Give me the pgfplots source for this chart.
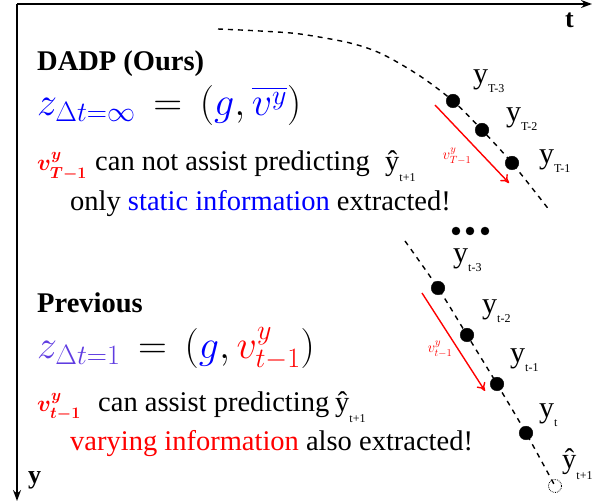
\RequirePackage{fix-cm}
\documentclass[border=0pt]{standalone}
\usepackage{amsmath}
\usepackage{bm}
\usepackage{pgfplots}
\pgfplotsset{compat=1.18}
\usetikzlibrary{arrows.meta}
\usepackage{fontspec}
\setmainfont{Liberation Serif}
\definecolor{zpurple}{RGB}{95,60,225}
\newcommand{\ylab}[1]{{\fontsize{30}{30}\selectfont y}\raisebox{-9pt}{\fontsize{12}{12}\selectfont #1}}
\newcommand{\yhat}{{\fontsize{28.5}{28.5}\selectfont ŷ}\raisebox{-11pt}{\fontsize{12}{12}\selectfont t+1}}
\newcommand{\txt}{\fontsize{28.5}{30}\selectfont}
\begin{document}
\begin{tikzpicture}
\begin{axis}[
  hide axis, scale only axis, width=598pt, height=503pt,
  xmin=0, xmax=598, ymin=0, ymax=503, clip=false,
]
\addplot[draw=none] coordinates {(0,0) (598,503)};
% axes of the sketch
\addplot[line width=1.5pt, -{Stealth[length=11pt,width=8pt]}] coordinates {(17,500) (592,500)};
\addplot[line width=1.5pt, -{Stealth[length=11pt,width=8pt]}] coordinates {(17,500) (17,3)};
% upper dashed curve
\addplot[smooth, line width=1.4pt, dash pattern=on 5pt off 5pt] coordinates {
 (218,475) (260,473) (300,470) (350,461) (382,450) (420,428) (453,403) (482,374) (512,341) (550,293)};
\addplot[only marks, mark=*, mark size=6.8pt, black] coordinates {(453,403) (482,374) (512,341)};
\addplot[red, line width=1.4pt, -{To[length=8pt,width=10pt]}] coordinates {(435,399) (509,321)};
% dots
\addplot[only marks, mark=*, mark size=4pt, black] coordinates {(456,273) (470,273) (485,273)};
% lower dashed curve
\addplot[smooth, line width=1.4pt, dash pattern=on 5pt off 5pt] coordinates {
 (405,263) (438,216) (467,169) (497,120) (526,71) (555,18)};
\addplot[only marks, mark=*, mark size=6.8pt, black] coordinates {(438,216) (467,169) (497,120) (526,71)};
\addplot[only marks, mark=o, mark size=6.5pt, mark options={densely dotted, line width=0.8pt, fill=white}] coordinates {(555,18)};
\addplot[red, line width=1.4pt, -{To[length=8pt,width=10pt]}] coordinates {(422,211) (485,113)};
% axis labels
\node[anchor=base west, inner sep=0pt] at (axis cs:565,476) {\fontsize{26}{26}\selectfont\bfseries t};
\node[anchor=base west, inner sep=0pt] at (axis cs:28,20) {\fontsize{26}{26}\selectfont\bfseries y};
% point labels
\node[anchor=base west, inner sep=0pt] at (axis cs:473,420) {\ylab{T-3}};
\node[anchor=base west, inner sep=0pt] at (axis cs:506,382) {\ylab{T-2}};
\node[anchor=base west, inner sep=0pt] at (axis cs:539,340) {\ylab{T-1}};
\node[anchor=base west, inner sep=0pt] at (axis cs:453,241) {\ylab{t-3}};
\node[anchor=base west, inner sep=0pt] at (axis cs:482,190) {\ylab{t-2}};
\node[anchor=base west, inner sep=0pt] at (axis cs:510,141) {\ylab{t-1}};
\node[anchor=base west, inner sep=0pt] at (axis cs:539,86) {\ylab{t}};
\node[anchor=base west, inner sep=0pt] at (axis cs:562,35) {\yhat};
\node[inner sep=0pt, red] at (axis cs:457,348) {\fontsize{15}{15}\selectfont $v^{y}_{T-1}$};
\node[inner sep=0pt, red] at (axis cs:440,155) {\fontsize{15}{15}\selectfont $v^{y}_{t-1}$};
% upper text
\node[anchor=base west, inner sep=0pt] at (axis cs:37,433) {\txt\bfseries DADP (Ours)};
\node[anchor=base west, inner sep=0pt] at (axis cs:37,388) {\fontsize{40}{40}\selectfont $\color{blue}z_{\Delta t=\infty}\color{black}\,=\,(\textcolor{blue}{g}, \textcolor{blue}{\overline{v^{y}}})$};
\node[anchor=base west, inner sep=0pt, red] at (axis cs:37,333) {\fontsize{23}{23}\selectfont $\bm{v^{y}_{T-1}}$};
\node[anchor=base west, inner sep=0pt] at (axis cs:95,333) {\txt can not assist predicting};
\node[anchor=base west, inner sep=0pt] at (axis cs:385,333) {\yhat};
\node[anchor=base west, inner sep=0pt] at (axis cs:70,293) {\txt only \textcolor{blue}{static information} extracted!};
% lower text
\node[anchor=base west, inner sep=0pt] at (axis cs:37,191) {\txt\bfseries Previous};
\node[anchor=base west, inner sep=0pt] at (axis cs:37,145) {\fontsize{40}{40}\selectfont $\color{zpurple}z_{\Delta t=1}\color{black}\,=\,(\textcolor{blue}{g}, \textcolor{red}{v^{y}_{t-1}})$};
\node[anchor=base west, inner sep=0pt, red] at (axis cs:37,92) {\fontsize{23}{23}\selectfont $\bm{v^{y}_{t-1}}$};
\node[anchor=base west, inner sep=0pt] at (axis cs:98,92) {\txt can assist predicting};
\node[anchor=base west, inner sep=0pt] at (axis cs:335,92) {\yhat};
\node[anchor=base west, inner sep=0pt] at (axis cs:70,53) {\txt \textcolor{red}{varying information} also extracted!};
\end{axis}
\end{tikzpicture}
\end{document}
